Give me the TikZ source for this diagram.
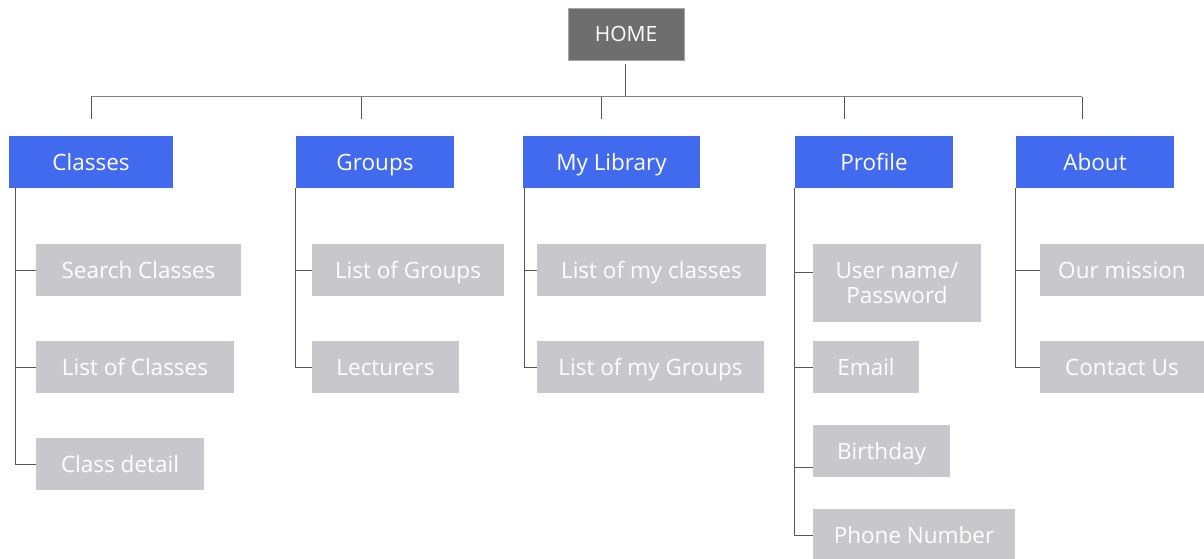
\documentclass[tikz,border=0pt]{standalone}
\usepackage{fontspec}
\setmainfont{Open Sans}
\usepackage{tikz}
\usetikzlibrary{positioning}

\definecolor{homegray}{RGB}{110,110,110}
\definecolor{navblue}{RGB}{66,106,238}
\definecolor{pagegray}{RGB}{200,200,204}
\definecolor{linegray}{RGB}{85,85,85}

\begin{document}
\begin{tikzpicture}[x=1pt, y=-1pt,
  home/.style={rectangle, fill=homegray, draw=gray!70, text=white, minimum height=52pt, inner sep=0pt, text height=17pt, text depth=2pt, font=\fontsize{21}{25}\selectfont},
  section/.style={rectangle, fill=navblue, text=white, minimum width=158pt, minimum height=52pt, inner sep=0pt, text height=18pt, text depth=2pt, font=\fontsize{22.5}{26}\selectfont},
  page/.style={rectangle, fill=pagegray, text=white, minimum height=52pt, inner sep=0pt, align=center, text height=18pt, text depth=2pt, font=\fontsize{22.5}{25.5}\selectfont},
  link/.style={draw=linegray, line width=1pt}
]
\useasboundingbox (0,0) rectangle (1204,559);
% top level
\node[home, minimum width=116pt] (home) at (626,34) {HOME};
\node[section, minimum width=164pt] (classes) at (91,162) {Classes};
\node[section] (groups) at (375,162) {Groups};
\node[section, minimum width=177pt] (library) at (611.5,162) {My Library};
\node[section] (profile) at (874,162) {Profile};
\node[section] (about) at (1095,162) {About};
% pages
\node[page, minimum width=205pt] (search) at (138.5,270) {Search Classes};
\node[page, minimum width=198pt] (classlist) at (135,367) {List of Classes};
\node[page, minimum width=168pt] (detail) at (120,464) {Class detail};
\node[page, minimum width=192pt] (grouplist) at (408,270) {List of Groups};
\node[page, minimum width=147pt] (lecturers) at (385.5,367) {Lecturers};
\node[page, minimum width=229pt] (myclasses) at (651.5,270) {List of my classes};
\node[page, minimum width=227pt] (mygroups) at (650.5,367) {List of my Groups};
\node[page, minimum width=168pt, minimum height=78pt, text height=, text depth=] (login) at (897,283) {User name/\\Password};
\node[page, minimum width=106pt] (email) at (866,367) {Email};
\node[page, minimum width=137pt] (birthday) at (881.5,451) {Birthday};
\node[page, minimum width=202pt] (phone) at (914,535) {Phone Number};
\node[page, minimum width=164pt] (mission) at (1122,270) {Our mission};
\node[page, minimum width=164pt] (contact) at (1122,367) {Contact Us};
% menu bar
\coordinate (bus) at (625,97);
\draw[link] ([yshift=-4]home.south -| bus) -- (bus);
\draw[link, draw=gray] (91,97) -- (1082,97);
\foreach \x in {91,361,601,844,1082}
  \draw[link] (\x,97) -- (\x,119);
% sub pages
\draw[link] ([xshift=7]classes.south west) |- (search.west);
\draw[link] ([xshift=7]classes.south west) |- (classlist.west);
\draw[link] ([xshift=7]classes.south west) |- (detail.west);
\draw[link] (groups.south west) |- (grouplist.west);
\draw[link] (groups.south west) |- (lecturers.west);
\draw[link] ([xshift=2]library.south west) |- (myclasses.west);
\draw[link] ([xshift=2]library.south west) |- (mygroups.west);
\draw[link] (profile.south west) |- ([yshift=11]login.west);
\draw[link] (profile.south west) |- (email.west);
\draw[link] (profile.south west) |- ([yshift=-16]birthday.west);
\draw[link] (profile.south west) |- (phone.west);
\draw[link] (about.south west) |- (mission.west);
\draw[link] (about.south west) |- (contact.west);
\end{tikzpicture}
\end{document}
